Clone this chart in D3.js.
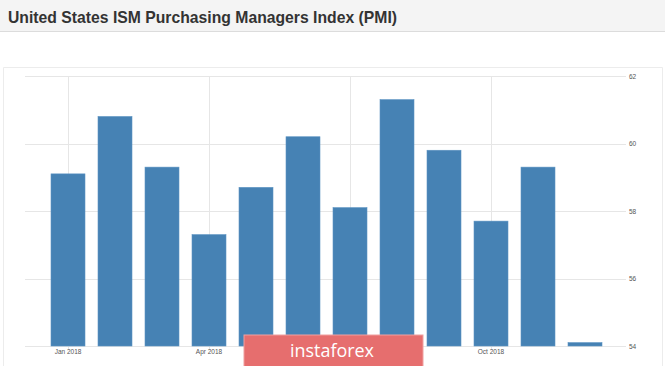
<!DOCTYPE html>
<html>
<head>
<meta charset="utf-8">
<script src="https://cdn.jsdelivr.net/npm/d3@7/dist/d3.min.js"></script>
<style>
html,body{margin:0;padding:0;background:#fff;}
svg{display:block;}
</style>
</head>
<body>
<svg id="chart" width="665" height="366"></svg>
<script>
const title = "United States ISM Purchasing Managers Index (PMI)";
const months = ["Jan 2018","Feb 2018","Mar 2018","Apr 2018","May 2018","Jun 2018","Jul 2018","Aug 2018","Sep 2018","Oct 2018","Nov 2018","Dec 2018"];
const pmi = [59.1, 60.8, 59.3, 57.3, 58.7, 60.2, 58.1, 61.3, 59.8, 57.7, 59.3, 54.1];
const yTicks = [54, 56, 58, 60, 62];
const xTickLabels = ["Jan 2018", "Apr 2018", "Jul 2018", "Oct 2018"];
const shownXLabels = ["Jan 2018", "Apr 2018", "Oct 2018"];
const watermark = "instaforex";

const svg = d3.select("#chart");

// header
svg.append("rect").attr("x",0).attr("y",0).attr("width",665).attr("height",31).attr("fill","#f4f4f4");
svg.append("line").attr("x1",0).attr("x2",665).attr("y1",31.5).attr("y2",31.5).attr("stroke","#dcdcdc");
svg.append("text").attr("x",8).attr("y",23).text(title)
  .attr("font-family","Liberation Sans, Arial, sans-serif").attr("font-weight","bold")
  .attr("font-size",16.5).attr("fill","#333").attr("textLength",389).attr("lengthAdjust","spacingAndGlyphs");

// faint panel border
svg.append("path").attr("d","M3.5,380 V67.5 H662.5 V380").attr("fill","none").attr("stroke","#ececec");

const x = d3.scaleBand().domain(months).range([44.5, 608.5]).paddingInner(0.277).paddingOuter(0.1385);
const y = d3.scaleLinear().domain([54, 62]).range([346, 76]);

const g = svg.append("g");

// horizontal grid
g.selectAll(".hg").data(yTicks).join("line")
  .attr("x1",25).attr("x2",626)
  .attr("y1",d=>Math.round(y(d))+0.5).attr("y2",d=>Math.round(y(d))+0.5)
  .attr("stroke","#e6e6e6");

// vertical grid
g.selectAll(".vg").data(xTickLabels).join("line")
  .attr("x1",d=>Math.round(x(d)+x.bandwidth()/2)+0.5).attr("x2",d=>Math.round(x(d)+x.bandwidth()/2)+0.5)
  .attr("y1",76).attr("y2",350)
  .attr("stroke","#e6e6e6");

// bars
g.selectAll(".bar").data(pmi).join("rect")
  .attr("x",(d,i)=>x(months[i]))
  .attr("width",x.bandwidth())
  .attr("y",d=>y(d))
  .attr("height",d=>y(54)-y(d))
  .attr("fill","#4682b4")
  .attr("stroke","#5b93c2").attr("stroke-width",0.6);

// y axis labels (right)
const yAxis = d3.axisRight(y).tickValues(yTicks).tickSize(0).tickPadding(0).tickFormat(d3.format("d"));
const ya = svg.append("g").attr("transform","translate(629,0)").call(yAxis);
ya.select(".domain").remove();
ya.selectAll("text").attr("font-family","Liberation Sans, Arial, sans-serif").attr("font-size",6.5).attr("fill","#555");

// x axis labels
const xAxis = d3.axisBottom(x).tickValues(shownXLabels).tickSize(0).tickPadding(0);
const xa = svg.append("g").attr("transform","translate(0,349)").call(xAxis);
xa.select(".domain").remove();
xa.selectAll("text").attr("font-family","Liberation Sans, Arial, sans-serif").attr("font-size",6.5).attr("fill","#555");

// watermark
svg.append("rect").attr("x",244).attr("y",335).attr("width",179).attr("height",35)
  .attr("fill","#e66e6e").attr("stroke","#f0a0a0").attr("stroke-width",1);
svg.append("text").attr("x",332).attr("y",357).attr("text-anchor","middle").text(watermark)
  .attr("font-family","Open Sans, Liberation Sans, sans-serif").attr("font-size",19)
  .attr("textLength",84).attr("lengthAdjust","spacingAndGlyphs").attr("fill","#fff");
</script>
</body>
</html>
